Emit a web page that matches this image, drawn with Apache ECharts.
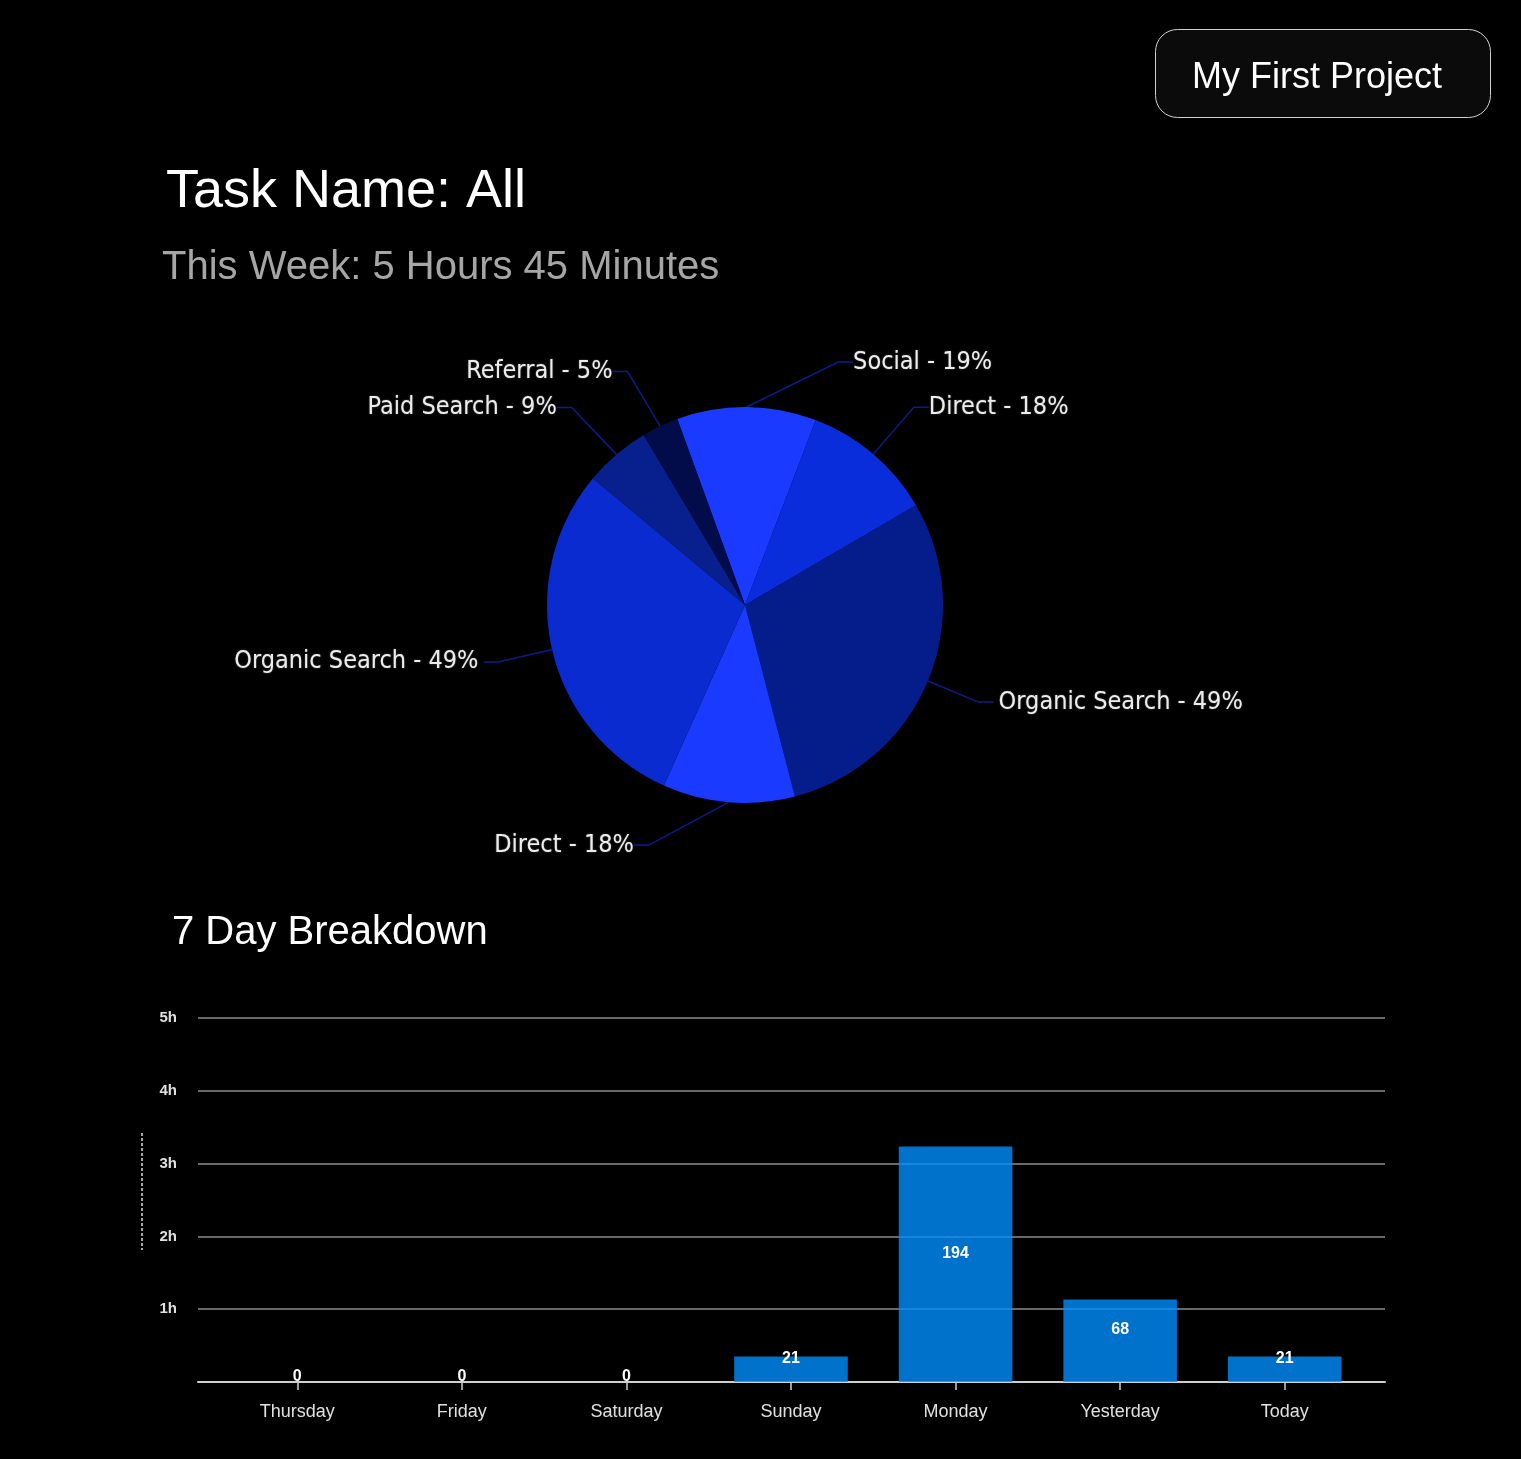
<!DOCTYPE html>
<html>
<head>
<meta charset="utf-8">
<script src="https://cdn.jsdelivr.net/npm/echarts@6/dist/echarts.min.js"></script>
<style>
html,body{margin:0;padding:0;background:#000;}
#chart{width:1521px;height:1459px;}
</style>
</head>
<body>
<div id="chart"></div>
<script>
// ---- data ----
const pieNames = ['Social', 'Direct', 'Organic Search', 'Direct', 'Organic Search', 'Paid Search', 'Referral'];
const pieValues = [19, 18, 49, 18, 49, 9, 5];
const pieColors = ['#1a3bff', '#0a2ddb', '#051d8b', '#1a3bff', '#0a2bd0', '#07208d', '#030c4a'];

const days = ['Thursday', 'Friday', 'Saturday', 'Sunday', 'Monday', 'Yesterday', 'Today'];
const minutes = [0, 0, 0, 21, 194, 68, 21];

const chart = echarts.init(document.getElementById('chart'), null, {renderer: 'canvas'});

const pieData = pieNames.map((n, i) => ({
  name: n, value: pieValues[i], itemStyle: {color: pieColors[i]}
}));

const barData = minutes.map(v => v === 0
  ? {value: v, label: {offset: [0, -5]}}
  : {value: v});

// label nudges (layout only) for labels the source placed off-radially
const labelNudge = {0: {dx: 86, dy: 10}, 1: {dx: 0, dy: -5}, 3: {dx: -70, dy: -12}, 5: {dx: -4, dy: -5}, 6: {dx: -4, dy: -5}};

const option = {
  backgroundColor: '#000',
  animation: false,
  title: [
    {text: 'Task Name: All', left: 161, top: 160,
     textStyle: {color: '#fff', fontSize: 54, fontWeight: 'normal', fontFamily: 'Liberation Sans, Arial, sans-serif'}},
    {text: 'This Week: 5 Hours 45 Minutes', left: 157, top: 243,
     textStyle: {color: '#a6a6a6', fontSize: 40, fontWeight: 'normal', fontFamily: 'Liberation Sans, Arial, sans-serif'}},
    {text: '7 Day Breakdown', left: 167, top: 908,
     textStyle: {color: '#fff', fontSize: 40, fontWeight: 'normal', fontFamily: 'Liberation Sans, Arial, sans-serif'}}
  ],
  graphic: [
    {type: 'rect', left: 1155, top: 29, z: 10,
     shape: {width: 335, height: 88, r: 22},
     style: {fill: '#0b0b0b', stroke: '#d0d0d0', lineWidth: 1}},
    {type: 'text', left: 1192, top: 60, z: 11,
     style: {text: 'My First Project', fill: '#fff', fontSize: 36, fontFamily: 'Liberation Sans, Arial, sans-serif'}},
    {type: 'line', z: 10, shape: {x1: 142, y1: 1133, x2: 142, y2: 1250},
     style: {stroke: '#e0e0e0', lineWidth: 1.5, lineDash: [3, 2]}}
  ],
  grid: [
    {left: 198, right: 136, top: 1018, bottom: 77},
    {left: 215, right: 154, top: 1018, bottom: 77}
  ],
  xAxis: [
    {type: 'value', gridIndex: 0, min: 0, max: 1,
     axisLine: {show: true, onZero: false, lineStyle: {color: '#cfcfcf', width: 2}},
     axisTick: {show: false}, axisLabel: {show: false}, splitLine: {show: false}},
    {type: 'category', gridIndex: 1, data: days,
     axisLine: {show: false},
     axisTick: {show: true, alignWithLabel: true, length: 8, lineStyle: {color: '#cfcfcf', width: 1.5}},
     axisLabel: {color: '#e0e0e0', fontSize: 18, margin: 21, fontFamily: 'Liberation Sans, Arial, sans-serif'}}
  ],
  yAxis: [
    {type: 'value', gridIndex: 0, min: 0, max: 300, interval: 60,
     axisLine: {show: false}, axisTick: {show: false},
     axisLabel: {color: '#e0e0e0', fontSize: 15, fontWeight: 'bold', margin: 21,
       fontFamily: 'Liberation Sans, Arial, sans-serif',
       verticalAlign: 'middle', lineHeight: 16, padding: [0, 0, 8, 0],
       formatter: v => v === 0 ? '' : (v / 60) + 'h'},
     splitLine: {lineStyle: {color: '#8c8c8c', width: 1.5}}},
    {type: 'value', gridIndex: 1, min: 0, max: 300, interval: 60, show: false}
  ],
  series: [
    {
      type: 'pie',
      center: [745, 605],
      radius: 198,
      startAngle: 110,
      clockwise: true,
      data: pieData,
      label: {
        formatter: '{b} - {c}%',
        color: '#ececec',
        fontSize: 25,
        fontFamily: '"DejaVu Sans Condensed", "DejaVu Sans", sans-serif',
        textShadowColor: 'rgba(255,255,255,0.35)', textShadowBlur: 2
      },
      labelLine: {length: 55, length2: 15, lineStyle: {color: '#0b1c8c', width: 1.5}},
      labelLayout: function (p) {
        const n = labelNudge[p.dataIndex];
        if (!n) return {};
        const r = p.labelRect;
        const ax = p.align === 'right' ? r.x + r.width : (p.align === 'center' ? r.x + r.width / 2 : r.x);
        return {x: ax + n.dx, y: r.y + r.height / 2 + n.dy};
      },
      emphasis: {disabled: true}
    },
    {
      type: 'bar',
      xAxisIndex: 1, yAxisIndex: 1,
      data: barData,
      barWidth: '69%',
      itemStyle: {color: 'rgba(0,142,255,0.8)'},
      label: {show: true, position: 'inside', offset: [0, -11], color: '#fff',
        fontSize: 16, fontWeight: 'bold', fontFamily: 'Liberation Sans, Arial, sans-serif'}
    }
  ]
};
chart.setOption(option);
</script>
</body>
</html>
